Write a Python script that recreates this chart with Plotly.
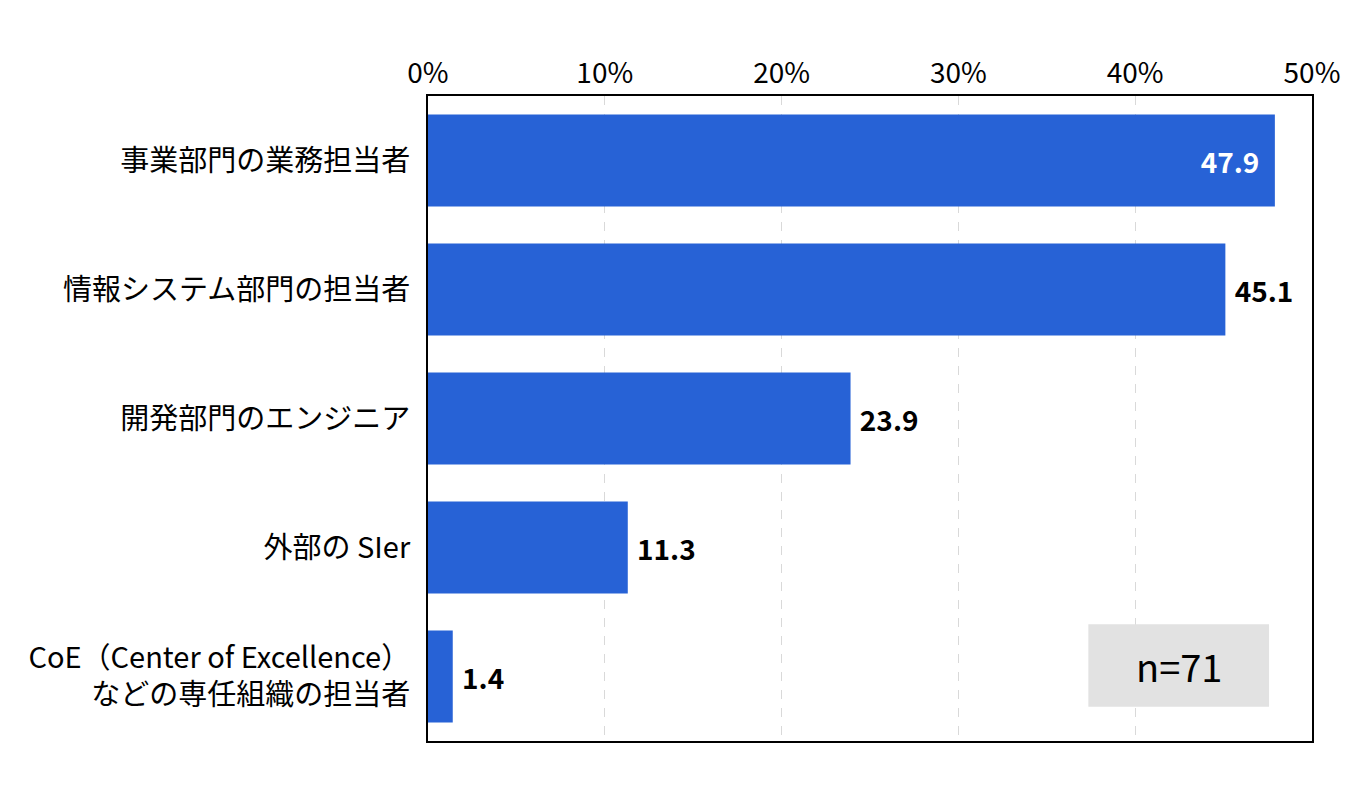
import plotly.graph_objects as go

categories = [
    '事業部門の業務担当者',
    '情報システム部門の担当者',
    '開発部門のエンジニア',
    '外部の SIer',
    'CoE（Center of Excellence）<br>などの専任組織の担当者',
]
values = [47.9, 45.1, 23.9, 11.3, 1.4]
tick_vals = [0, 10, 20, 30, 40, 50]
tick_text = ['0%', '10%', '20%', '30%', '40%', '50%']
n_label = 'n=71'

FONT = 'Noto Sans CJK JP'
BLUE = '#2762d6'

# first bar gets its label inside in white, the rest outside in black
positions = ['inside' if i == 0 else 'outside' for i in range(len(values))]
labels = [f'<b>{v:.1f}</b>  ' if i == 0 else f' <b>{v:.1f}</b>' for i, v in enumerate(values)]

fig = go.Figure(go.Bar(
    y=categories,
    x=values,
    orientation='h',
    marker=dict(color=BLUE, line=dict(width=0)),
    text=labels,
    textposition=positions,
    insidetextanchor='end',
    outsidetextfont=dict(family=FONT, size=28, color='black'),
    insidetextfont=dict(family=FONT, size=28, color='white'),
    textangle=0,
    cliponaxis=False,
))

# page body has an 8px margin, so the margins are trimmed to match
fig.update_layout(
    width=1371, height=796,
    margin=dict(l=420, r=67, t=88, b=63),
    paper_bgcolor='white',
    plot_bgcolor='white',
    bargap=0.287,
    showlegend=False,
    font=dict(family=FONT, size=29, color='black'),
)
fig.update_xaxes(
    side='top',
    range=[0, 50],
    tickvals=tick_vals,
    ticktext=tick_text,
    tickfont=dict(family=FONT, size=28),
    showgrid=True,
    gridcolor='#d9d9d9',
    griddash='dash',
    gridwidth=1,
    showline=True, linecolor='black', linewidth=2, mirror=True,
    ticks='', zeroline=False,
    automargin=False,
)
fig.update_yaxes(
    autorange='reversed',
    tickfont=dict(family=FONT, size=29),
    showline=True, linecolor='black', linewidth=2, mirror=True,
    ticks='', ticklabelstandoff=10,
    showgrid=False,
    automargin=False,
)

fig.add_shape(
    type='rect', xref='x', yref='paper',
    x0=37.35, x1=47.57, y0=0.053, y1=0.181,
    fillcolor='#e2e2e2', line=dict(width=0), layer='above',
)
fig.add_annotation(
    xref='x', yref='paper', x=42.46, y=0.117,
    xanchor='center', yanchor='middle',
    text=n_label, showarrow=False,
    font=dict(family=FONT, size=38, color='black'),
)

fig.write_html('out.html')
